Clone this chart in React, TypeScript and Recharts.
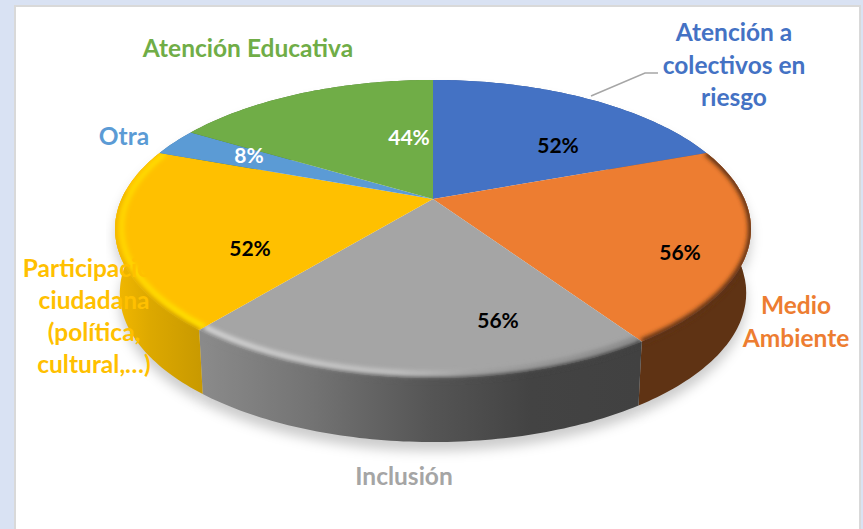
import { PieChart, Pie } from "recharts";

const categories = [
  "Atención a colectivos en riesgo",
  "Medio Ambiente",
  "Inclusión",
  "Participación ciudadana (política, cultural,…)",
  "Otra",
  "Atención Educativa",
];
const percents = [52, 56, 56, 52, 8, 44];
const nameLines = [
  ["Atención a", "colectivos en", "riesgo"],
  ["Medio", "Ambiente"],
  ["Inclusión"],
  ["Participación", "ciudadana", "(política,", "cultural,…)"],
  ["Otra"],
  ["Atención Educativa"],
];

const rows = categories.map((name, i) => ({ name, value: percents[i] }));

const colors = ["#4472C4", "#ED7D31", "#A5A5A5", "#FFC000", "#5B9BD5", "#70AD47"];
const wallFills = ["#2f5597", "#5f3314", "url(#wallGrey)", "url(#wallYellow)", "#3f75a8", "#4e7a31"];
const bevelStrokes = [null, null, "url(#bevelGrey)", "url(#bevelYellow)", null, null];
const hasRimShade = [false, true, true, true, false, false];
const percentColors = ["#000", "#000", "#000", "#000", "#fff", "#fff"];

// text layout: centre x, first baseline y
const namePos = [
  [734, 41],
  [796, 314],
  [404, 485],
  [94, 277],
  [124, 145],
  [248, 57],
];
const lineGap = [32.5, 33, 0, 32, 0, 0];
const percentPos = [
  [558, 153],
  [680, 260],
  [498, 328],
  [250, 256],
  [249, 163],
  [409, 145],
];
const leader = "M591 96 L645 73 L658 73";

// the pie is seen in perspective, so the rim is not centred on the apex
const TILT = 0.2013;
const WIDEN = 2.178;
const DEPTH = 64;
const BASE_SHRINK = 0.985;
const FRONT_PINCH = 1.3; // degrees, front edges sit a bit closer together in the picture
const SHADE_LIMIT = -183; // no wall behind the rim past this angle on the left

const project = (cx: number, cy: number, r: number, deg: number, rho = 1) => {
  let a = (deg * Math.PI) / 180;
  // pinch only on the near half of the rim
  const clock = Math.PI / 2 - a;
  a -= ((FRONT_PINCH * Math.PI) / 180) * -Math.sin(2 * clock) * Math.max(0, -Math.cos(clock));
  const u = Math.cos(a) * rho;
  const v = Math.sin(a) * rho;
  const w = 1 + TILT * v;
  return [cx + (WIDEN * r * u) / w, cy - (r * v) / w];
};

const arcPoints = (p: any, from: number, to: number, rho = 1) => {
  const { cx, cy, outerRadius } = p;
  const pts: number[][] = [];
  const n = Math.max(1, Math.ceil(Math.abs(to - from)));
  for (let i = 0; i <= n; i++) {
    pts.push(project(cx, cy, outerRadius, from + ((to - from) * i) / n, rho));
  }
  return pts;
};

const toPath = (pts: number[][]) =>
  pts.map((q, i) => `${i ? "L" : "M"}${q[0].toFixed(1)} ${q[1].toFixed(1)}`).join(" ");

const wallPath = (p: any) => {
  const rim = arcPoints(p, p.startAngle, p.endAngle);
  const base = rim
    .map((q) => [p.cx + (q[0] - p.cx) * BASE_SHRINK, q[1] + DEPTH])
    .reverse();
  return toPath([...rim, ...base]) + " Z";
};

const ShadowSlice = (p: any) => (
  <path d={wallPath(p)} transform="translate(0 9)" fill="#000" fillOpacity={0.2} filter="url(#soft)" />
);

const WallSlice = (p: any) => (
  <path d={wallPath(p)} fill={wallFills[categories.indexOf(p.name)]} />
);

const TopSlice = (p: any) => {
  const i = categories.indexOf(p.name);
  const rim = arcPoints(p, p.startAngle, p.endAngle);
  const top = toPath([[p.cx, p.cy], ...rim]) + " Z";
  const bevel = bevelStrokes[i];
  const clipId = `sliceClip${i}`;
  const shadeEnd = Math.max(p.endAngle, SHADE_LIMIT);
  return (
    <g>
      <path d={top} fill={colors[i]} />
      {hasRimShade[i] ? (
        <g clipPath={`url(#${clipId})`}>
          <clipPath id={clipId}>
            <path d={top} />
            <path d={wallPath(p)} />
          </clipPath>
          <path
            d={toPath(arcPoints(p, p.startAngle, shadeEnd))}
            fill="none"
            stroke={wallFills[i]}
            strokeWidth={6}
            filter="url(#bevelBlur)"
          />
          {bevel ? (
            <path
              d={toPath(arcPoints(p, p.startAngle, p.endAngle, 0.98))}
              fill="none"
              stroke={bevel}
              strokeWidth={5}
              filter="url(#bevelBlur)"
            />
          ) : null}
        </g>
      ) : null}
    </g>
  );
};

const SliceLabels = (p: any) => {
  const i = p.index;
  const [nx, ny] = namePos[i];
  const [px, py] = percentPos[i];
  return (
    <g fontFamily="Lato" fontWeight={700} textAnchor="middle">
      {i === 0 ? <path d={leader} fill="none" stroke="#a6a6a6" strokeWidth={1.5} /> : null}
      {nameLines[i].map((line, k) => (
        <text key={line} x={nx} y={ny + k * lineGap[i]} fontSize={24.5} fill={colors[i]}>
          {line}
        </text>
      ))}
      <text x={px} y={py} fontSize={21} fill={percentColors[i]}>
        {p.value}%
      </text>
    </g>
  );
};

const pieProps = {
  data: rows,
  dataKey: "value",
  nameKey: "name",
  cx: 433,
  cy: 199,
  innerRadius: 0,
  outerRadius: 143,
  startAngle: 90,
  endAngle: -270,
  stroke: "none",
  isAnimationActive: false,
};

export default function App() {
  return (
    <div style={{ position: "absolute", left: 0, top: 0, width: 863, height: 529, background: "#D9E2F3", overflow: "hidden" }}>
      <div
        style={{
          position: "absolute",
          left: 14,
          top: 5,
          width: 843,
          height: 524,
          background: "#fff",
          borderLeft: "2px solid #d9d9d9",
          borderTop: "2px solid #d9d9d9",
          borderRight: "2px solid #d9d9d9",
          boxSizing: "content-box",
        }}
      />
      <div style={{ position: "absolute", left: 0, top: 0 }}>
        <PieChart width={863} height={529} margin={{ top: 0, right: 0, bottom: 0, left: 0 }}>
          <defs>
            <filter id="soft" x="-10%" y="-20%" width="120%" height="140%">
              <feGaussianBlur stdDeviation="6" />
            </filter>
            <filter id="bevelBlur" x="-10%" y="-30%" width="120%" height="160%">
              <feGaussianBlur stdDeviation="2" />
            </filter>
            <linearGradient id="wallGrey" gradientUnits="userSpaceOnUse" x1="203" y1="0" x2="640" y2="0">
              <stop offset="0" stopColor="#8a8a8a" />
              <stop offset="0.25" stopColor="#737373" />
              <stop offset="0.52" stopColor="#555555" />
              <stop offset="0.75" stopColor="#434343" />
              <stop offset="1" stopColor="#414141" />
            </linearGradient>
            <linearGradient id="wallYellow" gradientUnits="userSpaceOnUse" x1="116" y1="0" x2="203" y2="0">
              <stop offset="0" stopColor="#f2b800" />
              <stop offset="0.4" stopColor="#dca800" />
              <stop offset="1" stopColor="#c89900" />
            </linearGradient>
            <linearGradient id="bevelGrey" gradientUnits="userSpaceOnUse" x1="203" y1="0" x2="640" y2="0">
              <stop offset="0" stopColor="#d8d8d8" />
              <stop offset="0.45" stopColor="#c6c6c6" />
              <stop offset="0.62" stopColor="#a5a5a5" />
              <stop offset="1" stopColor="#8a8a8a" />
            </linearGradient>
            <linearGradient id="bevelYellow" gradientUnits="userSpaceOnUse" x1="116" y1="0" x2="203" y2="0">
              <stop offset="0" stopColor="#ffd800" />
              <stop offset="1" stopColor="#ffe400" />
            </linearGradient>
          </defs>
          <Pie {...pieProps} shape={ShadowSlice} />
          <Pie {...pieProps} shape={WallSlice} />
          <Pie {...pieProps} shape={TopSlice} label={SliceLabels} labelLine={false} />
        </PieChart>
      </div>
    </div>
  );
}
